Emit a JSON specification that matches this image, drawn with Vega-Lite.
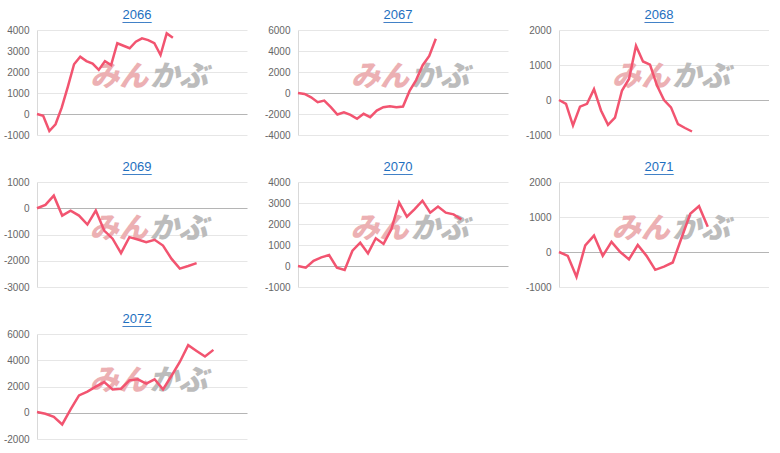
{
  "$schema": "https://vega.github.io/schema/vega-lite/v6.json",
  "padding": {"left": 3, "top": 8, "right": 0, "bottom": 0},
  "background": "white",
  "datasets": {
    "d": [
      {"code": "2066", "i": 0, "v": 0}, {"code": "2066", "i": 1, "v": -80}, {"code": "2066", "i": 2, "v": -810}, {"code": "2066", "i": 3, "v": -490}, {"code": "2066", "i": 4, "v": 300}, {"code": "2066", "i": 5, "v": 1300}, {"code": "2066", "i": 6, "v": 2370}, {"code": "2066", "i": 7, "v": 2730}, {"code": "2066", "i": 8, "v": 2520}, {"code": "2066", "i": 9, "v": 2400}, {"code": "2066", "i": 10, "v": 2100}, {"code": "2066", "i": 11, "v": 2520}, {"code": "2066", "i": 12, "v": 2330}, {"code": "2066", "i": 13, "v": 3370}, {"code": "2066", "i": 14, "v": 3250}, {"code": "2066", "i": 15, "v": 3130}, {"code": "2066", "i": 16, "v": 3440}, {"code": "2066", "i": 17, "v": 3600}, {"code": "2066", "i": 18, "v": 3520}, {"code": "2066", "i": 19, "v": 3370}, {"code": "2066", "i": 20, "v": 2810}, {"code": "2066", "i": 21, "v": 3840}, {"code": "2066", "i": 22, "v": 3630},
      {"code": "2067", "i": 0, "v": 0}, {"code": "2067", "i": 1, "v": -95}, {"code": "2067", "i": 2, "v": -410}, {"code": "2067", "i": 3, "v": -880}, {"code": "2067", "i": 4, "v": -720}, {"code": "2067", "i": 5, "v": -1350}, {"code": "2067", "i": 6, "v": -2050}, {"code": "2067", "i": 7, "v": -1830}, {"code": "2067", "i": 8, "v": -2080}, {"code": "2067", "i": 9, "v": -2460}, {"code": "2067", "i": 10, "v": -1980}, {"code": "2067", "i": 11, "v": -2300}, {"code": "2067", "i": 12, "v": -1670}, {"code": "2067", "i": 13, "v": -1350}, {"code": "2067", "i": 14, "v": -1260}, {"code": "2067", "i": 15, "v": -1350}, {"code": "2067", "i": 16, "v": -1290}, {"code": "2067", "i": 17, "v": 200}, {"code": "2067", "i": 18, "v": 1230}, {"code": "2067", "i": 19, "v": 2650}, {"code": "2067", "i": 20, "v": 3530}, {"code": "2067", "i": 21, "v": 5170},
      {"code": "2068", "i": 0, "v": 0}, {"code": "2068", "i": 1, "v": -110}, {"code": "2068", "i": 2, "v": -730}, {"code": "2068", "i": 3, "v": -190}, {"code": "2068", "i": 4, "v": -110}, {"code": "2068", "i": 5, "v": 310}, {"code": "2068", "i": 6, "v": -300}, {"code": "2068", "i": 7, "v": -710}, {"code": "2068", "i": 8, "v": -500}, {"code": "2068", "i": 9, "v": 270}, {"code": "2068", "i": 10, "v": 600}, {"code": "2068", "i": 11, "v": 1550}, {"code": "2068", "i": 12, "v": 1100}, {"code": "2068", "i": 13, "v": 1010}, {"code": "2068", "i": 14, "v": 410}, {"code": "2068", "i": 15, "v": 0}, {"code": "2068", "i": 16, "v": -210}, {"code": "2068", "i": 17, "v": -690}, {"code": "2068", "i": 18, "v": -800}, {"code": "2068", "i": 19, "v": -900},
      {"code": "2069", "i": 0, "v": 0}, {"code": "2069", "i": 1, "v": 130}, {"code": "2069", "i": 2, "v": 480}, {"code": "2069", "i": 3, "v": -280}, {"code": "2069", "i": 4, "v": -90}, {"code": "2069", "i": 5, "v": -280}, {"code": "2069", "i": 6, "v": -620}, {"code": "2069", "i": 7, "v": -90}, {"code": "2069", "i": 8, "v": -850}, {"code": "2069", "i": 9, "v": -1160}, {"code": "2069", "i": 10, "v": -1710}, {"code": "2069", "i": 11, "v": -1100}, {"code": "2069", "i": 12, "v": -1190}, {"code": "2069", "i": 13, "v": -1290}, {"code": "2069", "i": 14, "v": -1200}, {"code": "2069", "i": 15, "v": -1420}, {"code": "2069", "i": 16, "v": -1920}, {"code": "2069", "i": 17, "v": -2300}, {"code": "2069", "i": 18, "v": -2200}, {"code": "2069", "i": 19, "v": -2090},
      {"code": "2070", "i": 0, "v": 0}, {"code": "2070", "i": 1, "v": -80}, {"code": "2070", "i": 2, "v": 250}, {"code": "2070", "i": 3, "v": 410}, {"code": "2070", "i": 4, "v": 520}, {"code": "2070", "i": 5, "v": -80}, {"code": "2070", "i": 6, "v": -190}, {"code": "2070", "i": 7, "v": 730}, {"code": "2070", "i": 8, "v": 1110}, {"code": "2070", "i": 9, "v": 600}, {"code": "2070", "i": 10, "v": 1320}, {"code": "2070", "i": 11, "v": 1050}, {"code": "2070", "i": 12, "v": 1750}, {"code": "2070", "i": 13, "v": 3020}, {"code": "2070", "i": 14, "v": 2350}, {"code": "2070", "i": 15, "v": 2710}, {"code": "2070", "i": 16, "v": 3110}, {"code": "2070", "i": 17, "v": 2540}, {"code": "2070", "i": 18, "v": 2830}, {"code": "2070", "i": 19, "v": 2540}, {"code": "2070", "i": 20, "v": 2460}, {"code": "2070", "i": 21, "v": 2220},
      {"code": "2071", "i": 0, "v": 0}, {"code": "2071", "i": 1, "v": -110}, {"code": "2071", "i": 2, "v": -710}, {"code": "2071", "i": 3, "v": 190}, {"code": "2071", "i": 4, "v": 470}, {"code": "2071", "i": 5, "v": -110}, {"code": "2071", "i": 6, "v": 290}, {"code": "2071", "i": 7, "v": 0}, {"code": "2071", "i": 8, "v": -210}, {"code": "2071", "i": 9, "v": 200}, {"code": "2071", "i": 10, "v": -110}, {"code": "2071", "i": 11, "v": -510}, {"code": "2071", "i": 12, "v": -420}, {"code": "2071", "i": 13, "v": -300}, {"code": "2071", "i": 14, "v": 400}, {"code": "2071", "i": 15, "v": 1090}, {"code": "2071", "i": 16, "v": 1310}, {"code": "2071", "i": 17, "v": 720},
      {"code": "2072", "i": 0, "v": 50}, {"code": "2072", "i": 1, "v": -80}, {"code": "2072", "i": 2, "v": -310}, {"code": "2072", "i": 3, "v": -890}, {"code": "2072", "i": 4, "v": 250}, {"code": "2072", "i": 5, "v": 1320}, {"code": "2072", "i": 6, "v": 1610}, {"code": "2072", "i": 7, "v": 1990}, {"code": "2072", "i": 8, "v": 2340}, {"code": "2072", "i": 9, "v": 1780}, {"code": "2072", "i": 10, "v": 1830}, {"code": "2072", "i": 11, "v": 2470}, {"code": "2072", "i": 12, "v": 2550}, {"code": "2072", "i": 13, "v": 2220}, {"code": "2072", "i": 14, "v": 2550}, {"code": "2072", "i": 15, "v": 1780}, {"code": "2072", "i": 16, "v": 2800}, {"code": "2072", "i": 17, "v": 3870}, {"code": "2072", "i": 18, "v": 5150}, {"code": "2072", "i": 19, "v": 4710}, {"code": "2072", "i": 20, "v": 4280}, {"code": "2072", "i": 21, "v": 4790}
    ]
  },
  "hconcat": [
    {
      "spacing": 20,
      "vconcat": [
        {
          "width": 210, "height": 105,
          "title": {"text": "2066", "subtitle": "____"},
          "layer": [
            {"data": {"values": [{}]}, "mark": {"type": "text", "text": "みん", "align": "right", "color": "#ecb0b3"}, "encoding": {"x": {"datum": 18.0, "type": "quantitative", "scale": {"domain": [0, 34], "nice": false}, "axis": null}, "y": {"datum": 1750, "type": "quantitative", "scale": {"domain": [-1000, 4000], "nice": false}, "axis": {"title": null, "grid": true, "values": [-1000, 0, 1000, 2000, 3000, 4000], "gridColor": {"condition": {"test": "datum.value === 0", "value": "#b5b5b5"}, "value": "#e6e6e6"}}}}},
            {"data": {"values": [{}]}, "mark": {"type": "text", "text": "かぶ", "align": "left", "color": "#bcbcbc"}, "encoding": {"x": {"datum": 18.3, "type": "quantitative", "scale": {"domain": [0, 34], "nice": false}, "axis": null}, "y": {"datum": 1750, "type": "quantitative", "scale": {"domain": [-1000, 4000], "nice": false}, "axis": {"title": null, "grid": true, "values": [-1000, 0, 1000, 2000, 3000, 4000], "gridColor": {"condition": {"test": "datum.value === 0", "value": "#b5b5b5"}, "value": "#e6e6e6"}}}}},
            {"data": {"name": "d"}, "transform": [{"filter": "datum.code == '2066'"}], "mark": "line",
             "encoding": {
               "x": {"field": "i", "type": "quantitative", "scale": {"domain": [0, 34], "nice": false}, "axis": null},
               "y": {"field": "v", "type": "quantitative", "scale": {"domain": [-1000, 4000], "nice": false}, "axis": {"title": null, "grid": true, "values": [-1000, 0, 1000, 2000, 3000, 4000], "gridColor": {"condition": {"test": "datum.value === 0", "value": "#b5b5b5"}, "value": "#e6e6e6"}}}
             }}
          ]
        },
        {
          "width": 210, "height": 105,
          "title": {"text": "2069", "subtitle": "____"},
          "layer": [
            {"data": {"values": [{}]}, "mark": {"type": "text", "text": "みん", "align": "right", "color": "#ecb0b3"}, "encoding": {"x": {"datum": 13.2, "type": "quantitative", "scale": {"domain": [0, 25], "nice": false}, "axis": null}, "y": {"datum": -800, "type": "quantitative", "scale": {"domain": [-3000, 1000], "nice": false}, "axis": {"title": null, "grid": true, "values": [-3000, -2000, -1000, 0, 1000], "gridColor": {"condition": {"test": "datum.value === 0", "value": "#b5b5b5"}, "value": "#e6e6e6"}}}}},
            {"data": {"values": [{}]}, "mark": {"type": "text", "text": "かぶ", "align": "left", "color": "#bcbcbc"}, "encoding": {"x": {"datum": 13.4, "type": "quantitative", "scale": {"domain": [0, 25], "nice": false}, "axis": null}, "y": {"datum": -800, "type": "quantitative", "scale": {"domain": [-3000, 1000], "nice": false}, "axis": {"title": null, "grid": true, "values": [-3000, -2000, -1000, 0, 1000], "gridColor": {"condition": {"test": "datum.value === 0", "value": "#b5b5b5"}, "value": "#e6e6e6"}}}}},
            {"data": {"name": "d"}, "transform": [{"filter": "datum.code == '2069'"}], "mark": "line",
             "encoding": {
               "x": {"field": "i", "type": "quantitative", "scale": {"domain": [0, 25], "nice": false}, "axis": null},
               "y": {"field": "v", "type": "quantitative", "scale": {"domain": [-3000, 1000], "nice": false}, "axis": {"title": null, "grid": true, "values": [-3000, -2000, -1000, 0, 1000], "gridColor": {"condition": {"test": "datum.value === 0", "value": "#b5b5b5"}, "value": "#e6e6e6"}}}
             }}
          ]
        },
        {
          "width": 210, "height": 105,
          "title": {"text": "2072", "subtitle": "____"},
          "layer": [
            {"data": {"values": [{}]}, "mark": {"type": "text", "text": "みん", "align": "right", "color": "#ecb0b3"}, "encoding": {"x": {"datum": 13.2, "type": "quantitative", "scale": {"domain": [0, 25], "nice": false}, "axis": null}, "y": {"datum": 2400, "type": "quantitative", "scale": {"domain": [-2000, 6000], "nice": false}, "axis": {"title": null, "grid": true, "values": [-2000, 0, 2000, 4000, 6000], "gridColor": {"condition": {"test": "datum.value === 0", "value": "#b5b5b5"}, "value": "#e6e6e6"}}}}},
            {"data": {"values": [{}]}, "mark": {"type": "text", "text": "かぶ", "align": "left", "color": "#bcbcbc"}, "encoding": {"x": {"datum": 13.4, "type": "quantitative", "scale": {"domain": [0, 25], "nice": false}, "axis": null}, "y": {"datum": 2400, "type": "quantitative", "scale": {"domain": [-2000, 6000], "nice": false}, "axis": {"title": null, "grid": true, "values": [-2000, 0, 2000, 4000, 6000], "gridColor": {"condition": {"test": "datum.value === 0", "value": "#b5b5b5"}, "value": "#e6e6e6"}}}}},
            {"data": {"name": "d"}, "transform": [{"filter": "datum.code == '2072'"}], "mark": "line",
             "encoding": {
               "x": {"field": "i", "type": "quantitative", "scale": {"domain": [0, 25], "nice": false}, "axis": null},
               "y": {"field": "v", "type": "quantitative", "scale": {"domain": [-2000, 6000], "nice": false}, "axis": {"title": null, "grid": true, "values": [-2000, 0, 2000, 4000, 6000], "gridColor": {"condition": {"test": "datum.value === 0", "value": "#b5b5b5"}, "value": "#e6e6e6"}}}
             }}
          ]
        }
      ]
    },
    {
      "spacing": 20,
      "vconcat": [
        {
          "width": 210, "height": 105,
          "title": {"text": "2067", "subtitle": "____"},
          "layer": [
            {"data": {"values": [{}]}, "mark": {"type": "text", "text": "みん", "align": "right", "color": "#ecb0b3"}, "encoding": {"x": {"datum": 16.9, "type": "quantitative", "scale": {"domain": [0, 32], "nice": false}, "axis": null}, "y": {"datum": 1500, "type": "quantitative", "scale": {"domain": [-4000, 6000], "nice": false}, "axis": {"title": null, "grid": true, "values": [-4000, -2000, 0, 2000, 4000, 6000], "gridColor": {"condition": {"test": "datum.value === 0", "value": "#b5b5b5"}, "value": "#e6e6e6"}}}}},
            {"data": {"values": [{}]}, "mark": {"type": "text", "text": "かぶ", "align": "left", "color": "#bcbcbc"}, "encoding": {"x": {"datum": 17.2, "type": "quantitative", "scale": {"domain": [0, 32], "nice": false}, "axis": null}, "y": {"datum": 1500, "type": "quantitative", "scale": {"domain": [-4000, 6000], "nice": false}, "axis": {"title": null, "grid": true, "values": [-4000, -2000, 0, 2000, 4000, 6000], "gridColor": {"condition": {"test": "datum.value === 0", "value": "#b5b5b5"}, "value": "#e6e6e6"}}}}},
            {"data": {"name": "d"}, "transform": [{"filter": "datum.code == '2067'"}], "mark": "line",
             "encoding": {
               "x": {"field": "i", "type": "quantitative", "scale": {"domain": [0, 32], "nice": false}, "axis": null},
               "y": {"field": "v", "type": "quantitative", "scale": {"domain": [-4000, 6000], "nice": false}, "axis": {"title": null, "grid": true, "values": [-4000, -2000, 0, 2000, 4000, 6000], "gridColor": {"condition": {"test": "datum.value === 0", "value": "#b5b5b5"}, "value": "#e6e6e6"}}}
             }}
          ]
        },
        {
          "width": 210, "height": 105,
          "title": {"text": "2070", "subtitle": "____"},
          "layer": [
            {"data": {"values": [{}]}, "mark": {"type": "text", "text": "みん", "align": "right", "color": "#ecb0b3"}, "encoding": {"x": {"datum": 14.2, "type": "quantitative", "scale": {"domain": [0, 27], "nice": false}, "axis": null}, "y": {"datum": 1750, "type": "quantitative", "scale": {"domain": [-1000, 4000], "nice": false}, "axis": {"title": null, "grid": true, "values": [-1000, 0, 1000, 2000, 3000, 4000], "gridColor": {"condition": {"test": "datum.value === 0", "value": "#b5b5b5"}, "value": "#e6e6e6"}}}}},
            {"data": {"values": [{}]}, "mark": {"type": "text", "text": "かぶ", "align": "left", "color": "#bcbcbc"}, "encoding": {"x": {"datum": 14.5, "type": "quantitative", "scale": {"domain": [0, 27], "nice": false}, "axis": null}, "y": {"datum": 1750, "type": "quantitative", "scale": {"domain": [-1000, 4000], "nice": false}, "axis": {"title": null, "grid": true, "values": [-1000, 0, 1000, 2000, 3000, 4000], "gridColor": {"condition": {"test": "datum.value === 0", "value": "#b5b5b5"}, "value": "#e6e6e6"}}}}},
            {"data": {"name": "d"}, "transform": [{"filter": "datum.code == '2070'"}], "mark": "line",
             "encoding": {
               "x": {"field": "i", "type": "quantitative", "scale": {"domain": [0, 27], "nice": false}, "axis": null},
               "y": {"field": "v", "type": "quantitative", "scale": {"domain": [-1000, 4000], "nice": false}, "axis": {"title": null, "grid": true, "values": [-1000, 0, 1000, 2000, 3000, 4000], "gridColor": {"condition": {"test": "datum.value === 0", "value": "#b5b5b5"}, "value": "#e6e6e6"}}}
             }}
          ]
        }
      ]
    },
    {
      "spacing": 20,
      "vconcat": [
        {
          "width": 210, "height": 105,
          "title": {"text": "2068", "subtitle": "____"},
          "layer": [
            {"data": {"values": [{}]}, "mark": {"type": "text", "text": "みん", "align": "right", "color": "#ecb0b3"}, "encoding": {"x": {"datum": 15.85, "type": "quantitative", "scale": {"domain": [0, 30], "nice": false}, "axis": null}, "y": {"datum": 650, "type": "quantitative", "scale": {"domain": [-1000, 2000], "nice": false}, "axis": {"title": null, "grid": true, "values": [-1000, 0, 1000, 2000], "gridColor": {"condition": {"test": "datum.value === 0", "value": "#b5b5b5"}, "value": "#e6e6e6"}}}}},
            {"data": {"values": [{}]}, "mark": {"type": "text", "text": "かぶ", "align": "left", "color": "#bcbcbc"}, "encoding": {"x": {"datum": 16.15, "type": "quantitative", "scale": {"domain": [0, 30], "nice": false}, "axis": null}, "y": {"datum": 650, "type": "quantitative", "scale": {"domain": [-1000, 2000], "nice": false}, "axis": {"title": null, "grid": true, "values": [-1000, 0, 1000, 2000], "gridColor": {"condition": {"test": "datum.value === 0", "value": "#b5b5b5"}, "value": "#e6e6e6"}}}}},
            {"data": {"name": "d"}, "transform": [{"filter": "datum.code == '2068'"}], "mark": "line",
             "encoding": {
               "x": {"field": "i", "type": "quantitative", "scale": {"domain": [0, 30], "nice": false}, "axis": null},
               "y": {"field": "v", "type": "quantitative", "scale": {"domain": [-1000, 2000], "nice": false}, "axis": {"title": null, "grid": true, "values": [-1000, 0, 1000, 2000], "gridColor": {"condition": {"test": "datum.value === 0", "value": "#b5b5b5"}, "value": "#e6e6e6"}}}
             }}
          ]
        },
        {
          "width": 210, "height": 105,
          "title": {"text": "2071", "subtitle": "____"},
          "layer": [
            {"data": {"values": [{}]}, "mark": {"type": "text", "text": "みん", "align": "right", "color": "#ecb0b3"}, "encoding": {"x": {"datum": 12.65, "type": "quantitative", "scale": {"domain": [0, 24], "nice": false}, "axis": null}, "y": {"datum": 650, "type": "quantitative", "scale": {"domain": [-1000, 2000], "nice": false}, "axis": {"title": null, "grid": true, "values": [-1000, 0, 1000, 2000], "gridColor": {"condition": {"test": "datum.value === 0", "value": "#b5b5b5"}, "value": "#e6e6e6"}}}}},
            {"data": {"values": [{}]}, "mark": {"type": "text", "text": "かぶ", "align": "left", "color": "#bcbcbc"}, "encoding": {"x": {"datum": 12.9, "type": "quantitative", "scale": {"domain": [0, 24], "nice": false}, "axis": null}, "y": {"datum": 650, "type": "quantitative", "scale": {"domain": [-1000, 2000], "nice": false}, "axis": {"title": null, "grid": true, "values": [-1000, 0, 1000, 2000], "gridColor": {"condition": {"test": "datum.value === 0", "value": "#b5b5b5"}, "value": "#e6e6e6"}}}}},
            {"data": {"name": "d"}, "transform": [{"filter": "datum.code == '2071'"}], "mark": "line",
             "encoding": {
               "x": {"field": "i", "type": "quantitative", "scale": {"domain": [0, 24], "nice": false}, "axis": null},
               "y": {"field": "v", "type": "quantitative", "scale": {"domain": [-1000, 2000], "nice": false}, "axis": {"title": null, "grid": true, "values": [-1000, 0, 1000, 2000], "gridColor": {"condition": {"test": "datum.value === 0", "value": "#b5b5b5"}, "value": "#e6e6e6"}}}
             }}
          ]
        }
      ]
    }
  ],
  "spacing": 17,
  "config": {
    "view": {"stroke": null},
    "font": "Liberation Sans",
    "line": {"color": "#f25470", "strokeWidth": 2.5},
    "text": {"font": "Noto Sans CJK JP", "fontSize": 29, "fontWeight": 900, "fontStyle": "italic", "baseline": "middle"},
    "axisY": {"domainColor": "#d9d9d9", "ticks": false, "labelPadding": 8, "labelColor": "#666666", "labelFontSize": 10, "labelFont": "Liberation Sans", "labelExpr": "'' + datum.value"},
    "title": {"font": "Liberation Sans", "fontSize": 13, "fontWeight": "normal", "color": "#1e6fc0", "subtitleFont": "Liberation Sans", "subtitleFontSize": 13, "subtitleColor": "#1e6fc0", "subtitlePadding": -12, "frame": "group", "anchor": "middle", "dx": -5, "offset": 2.5}
  }
}
